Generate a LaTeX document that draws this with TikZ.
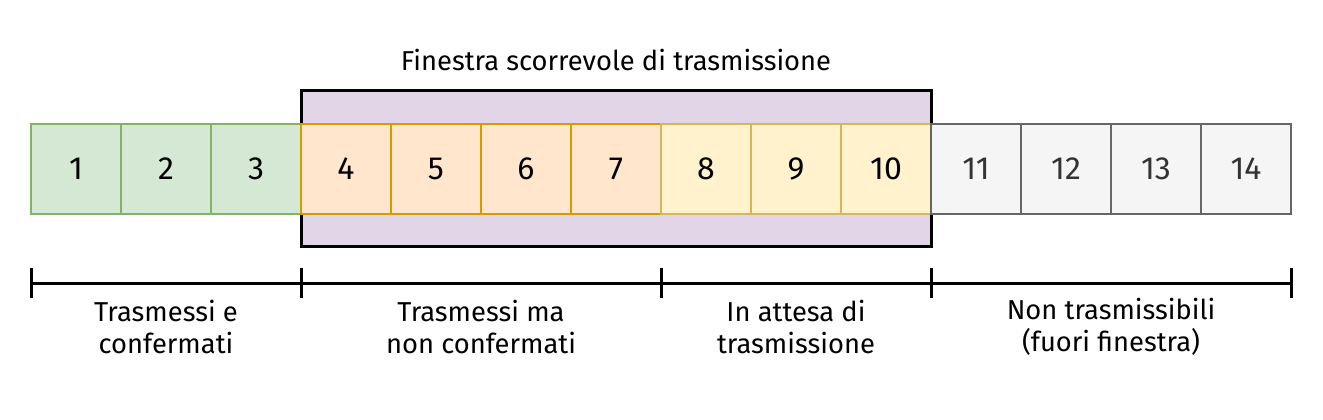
\documentclass[tikz,border=0pt]{standalone}
\usepackage{fontspec}
\setmainfont{Fira Sans}
\usetikzlibrary{positioning}
\definecolor{verdeF}{HTML}{D5E8D4}
\definecolor{verdeB}{HTML}{82B366}
\definecolor{aranF}{HTML}{FFE6CC}
\definecolor{aranB}{HTML}{D79B00}
\definecolor{gialF}{HTML}{FFF2CC}
\definecolor{gialB}{HTML}{D6B656}
\definecolor{grigF}{HTML}{F5F5F5}
\definecolor{grigB}{HTML}{666666}
\definecolor{grigT}{HTML}{333333}
\definecolor{viola}{HTML}{E1D5E7}

\begin{document}
\begin{tikzpicture}[x=0.75pt,y=-0.75pt,node distance=0pt]
\tikzstyle{cella}=[draw,line width=1.5pt,minimum width=67.5pt,minimum height=67.5pt,
    inner sep=0pt,outer sep=0pt,font=\fontsize{24}{28}\selectfont]
\tikzstyle{conf}=[cella,fill=verdeF,draw=verdeB]
\tikzstyle{nonconf}=[cella,fill=aranF,draw=aranB]
\tikzstyle{attesa}=[cella,fill=gialF,draw=gialB]
\tikzstyle{fuori}=[cella,fill=grigF,draw=grigB,text=grigT]
\tikzstyle{etich}=[align=center,font=\fontsize{20.5}{24}\selectfont]
\tikzstyle{tacca}=[line width=2.25pt]
    \useasboundingbox (0,0) rectangle (1323,420);
    % finestra
    \node (win) [draw,line width=2.25pt,fill=viola,minimum width=472.5pt,
        minimum height=117pt,outer sep=0pt] at (616,169) {};
    \node (titolo) [etich] at (616,60) {Finestra scorrevole di trasmissione};
    % pacchetti
    \node (c1) [conf] at (76,169) {1};
    \node (c2) [conf,right=of c1] {2};
    \node (c3) [conf,right=of c2] {3};
    \node (c4) [nonconf,right=of c3] {4};
    \node (c5) [nonconf,right=of c4] {5};
    \node (c6) [nonconf,right=of c5] {6};
    \node (c7) [nonconf,right=of c6] {7};
    \node (c8) [attesa,right=of c7] {8};
    \node (c9) [attesa,right=of c8] {9};
    \node (c10) [attesa,right=of c9] {10};
    \node (c11) [fuori,right=of c10] {11};
    \node (c12) [fuori,right=of c11] {12};
    \node (c13) [fuori,right=of c12] {13};
    \node (c14) [fuori,right=of c13] {14};
    % scala
    \coordinate (t0) at (31,283);
    \coordinate (t1) at (301,283);
    \coordinate (t2) at (661,283);
    \coordinate (t3) at (931,283);
    \coordinate (t4) at (1291,283);
    \draw[tacca] (t0) -- (t4);
    \foreach \t in {t0,t1,t2,t3,t4}
        \draw[tacca] ([yshift=11.25pt]\t) -- ([yshift=-11.25pt]\t);
    \node (e1) [etich] at (166,327) {Trasmessi e\\confermati};
    \node (e2) [etich] at (481,327) {Trasmessi ma\\non confermati};
    \node (e3) [etich] at (796,327) {In attesa di\\trasmissione};
    \node (e4) [etich] at (1111,327) {Non trasmissibili\\(fuori finestra)};
\end{tikzpicture}
\end{document}
